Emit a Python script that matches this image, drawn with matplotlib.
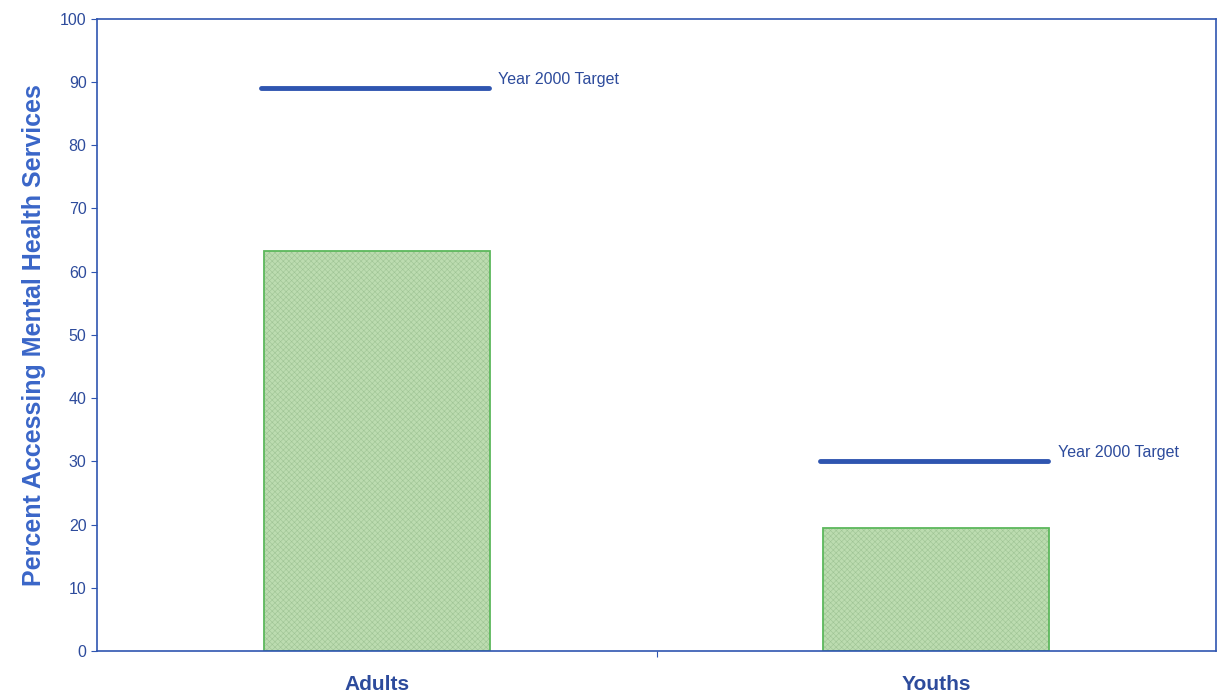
import matplotlib.pyplot as plt

groups = ['Adults', 'Youths']
percent = [63.3, 19.5]
target = [89, 30]

blue = '#2f55b0'
text_blue = '#2d4b9c'

plt.rcParams['font.family'] = ['Liberation Sans', 'DejaVu Sans']
plt.rcParams['hatch.linewidth'] = 0.4

fig = plt.figure(figsize=(12.17, 6.96), dpi=100)
ax = fig.add_axes([0.0797, 0.0647, 0.9195, 0.9083])

x = range(len(groups))
# hatched fill, then a green outline on top
ax.bar(x, percent, width=0.404, color='#bcdcb0', edgecolor='#9fc495', hatch='xxxxxx', linewidth=0)
ax.bar(x, percent, width=0.404, fill=False, edgecolor='#5cb85c', linewidth=1.3)

for i, t in enumerate(target):
    ax.plot([i - 0.207, i + 0.2], [t, t], color=blue, lw=3.5, solid_capstyle='round')
    ax.text(i + 0.217, t + 0.2, 'Year 2000 Target', color=text_blue, fontsize=11.5, va='bottom', ha='left')

ax.set_xlim(-0.5, 1.5)
ax.set_ylim(0, 100)
ax.set_yticks(range(0, 101, 10))
ax.set_xticks([0.5])
ax.set_xticklabels([''])
ax.tick_params(axis='both', colors=blue, labelcolor=text_blue, labelsize=11.5, length=4)
for i, g in enumerate(groups):
    ax.text(i, -5.3, g, ha='center', va='center', fontsize=15, fontweight='bold', color=text_blue)

for s in ax.spines.values():
    s.set_color(blue)
    s.set_linewidth(1.2)

ax.set_ylabel('Percent Accessing Mental Health Services', fontsize=18, fontweight='bold', color='#3a66c8', labelpad=10)

fig.savefig('out.png', dpi=100)
